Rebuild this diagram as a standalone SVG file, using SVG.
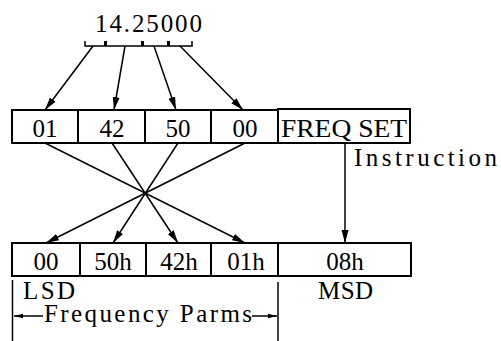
<svg xmlns="http://www.w3.org/2000/svg" width="501" height="341" viewBox="0 0 501 341">
<style>
.box{fill:#fff;stroke:#000;stroke-width:2}
.t{font-size:25px;fill:#000}
.c{text-anchor:middle}
.ln{stroke:#000;stroke-width:1.5;fill:none}
</style>
<defs>
<marker id="ah" markerUnits="userSpaceOnUse" markerWidth="14" markerHeight="8" refX="13" refY="4" orient="auto">
<path d="M0,0.5 L13,4 L0,7.5 Z" fill="#000"/>
</marker>
<marker id="sh" markerUnits="userSpaceOnUse" markerWidth="10" markerHeight="6" refX="9" refY="3" orient="auto">
<path d="M0,0.8 L9,3 L0,5.2 Z" fill="#000"/>
</marker>
</defs>
<rect width="501" height="341" fill="#fff"/>
<g font-family="Liberation Serif, DejaVu Serif, serif">
<g id="value">
<text class="t" x="95" y="32" textLength="107" lengthAdjust="spacing">14.25000</text>
<path class="ln" d="M85,41 V46 H192 V41"/>
<rect x="104" y="41" width="3" height="5" fill="#000"/>
<rect x="141" y="41" width="3" height="5" fill="#000"/>
<rect x="167" y="41" width="3" height="5" fill="#000"/>
</g>
<g id="cmd-row">
<rect class="box" x="12" y="110" width="266" height="33"/>
<rect class="box" x="278" y="109" width="132" height="34"/>
<line class="ln" x1="78" y1="110" x2="78" y2="143" style="stroke-width:2"/>
<line class="ln" x1="145" y1="110" x2="145" y2="143" style="stroke-width:2"/>
<line class="ln" x1="211" y1="110" x2="211" y2="143" style="stroke-width:2"/>
<text class="t c" x="45" y="137">01</text>
<text class="t c" x="112" y="137">42</text>
<text class="t c" x="178" y="137">50</text>
<text class="t c" x="245" y="137">00</text>
<text class="t" x="281" y="137" textLength="126" lengthAdjust="spacingAndGlyphs">FREQ SET</text>
</g>
<g id="data-row">
<rect class="box" x="12" y="243" width="266" height="33"/>
<rect class="box" x="278" y="243" width="133" height="33"/>
<line class="ln" x1="80" y1="243" x2="80" y2="276" style="stroke-width:2"/>
<line class="ln" x1="146" y1="243" x2="146" y2="276" style="stroke-width:2"/>
<line class="ln" x1="211" y1="243" x2="211" y2="276" style="stroke-width:2"/>
<text class="t c" x="46" y="270">00</text>
<text class="t c" x="113" y="270">50h</text>
<text class="t c" x="179" y="270">42h</text>
<text class="t c" x="246" y="270">01h</text>
<text class="t c" x="345" y="270">08h</text>
</g>
<g id="labels">
<text class="t" x="354" y="166" textLength="143" lengthAdjust="spacing">Instruction</text>
<text class="t" x="23" y="299" textLength="52" lengthAdjust="spacing">LSD</text>
<text class="t" x="318" y="299" textLength="55" lengthAdjust="spacing">MSD</text>
<text class="t" x="44" y="322" textLength="208" lengthAdjust="spacing">Frequency Parms</text>
<line class="ln" x1="12.5" y1="280" x2="12.5" y2="341"/>
<line class="ln" x1="278" y1="282" x2="278" y2="341"/>
</g>
</g>
<g id="connectors">
<line class="ln" x1="93" y1="46" x2="45" y2="110" marker-end="url(#ah)"/>
<line class="ln" x1="125" y1="46" x2="114" y2="110" marker-end="url(#ah)"/>
<line class="ln" x1="154" y1="46" x2="176" y2="110" marker-end="url(#ah)"/>
<line class="ln" x1="180" y1="46" x2="243" y2="110" marker-end="url(#ah)"/>
<line class="ln" x1="45" y1="143" x2="245" y2="243" marker-end="url(#ah)"/>
<line class="ln" x1="112" y1="143" x2="178" y2="243" marker-end="url(#ah)"/>
<line class="ln" x1="178" y1="143" x2="113" y2="243" marker-end="url(#ah)"/>
<line class="ln" x1="245" y1="143" x2="46" y2="243" marker-end="url(#ah)"/>
<line class="ln" x1="345" y1="143" x2="345" y2="243" marker-end="url(#ah)"/>
<line class="ln" x1="43" y1="316" x2="14" y2="316" marker-end="url(#sh)"/>
<line class="ln" x1="252" y1="316" x2="277" y2="316" marker-end="url(#sh)"/>
</g>
</svg>
